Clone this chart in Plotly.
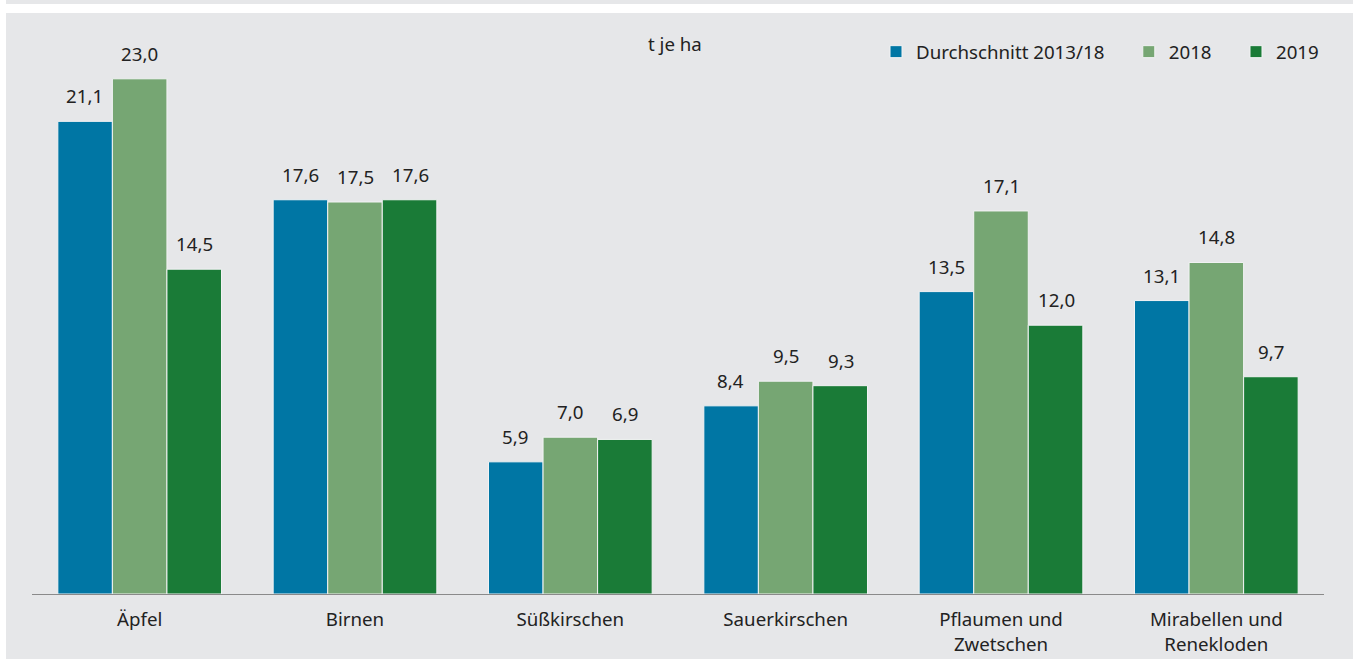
import plotly.graph_objects as go

categories = ["Äpfel", "Birnen", "Süßkirschen", "Sauerkirschen", "Pflaumen und<br>Zwetschen", "Mirabellen und<br>Renekloden"]
series_names = ["Durchschnitt 2013/18", "2018", "2019"]
avg_2013_18 = [21.1, 17.6, 5.9, 8.4, 13.5, 13.1]
y2018 = [23.0, 17.5, 7.0, 9.5, 17.1, 14.8]
y2019 = [14.5, 17.6, 6.9, 9.3, 12.0, 9.7]
colors = ["#0076a4", "#76a673", "#1a7b37"]

W, H = 1353, 659
ML, MR, MT, MB = 32, 29, 34, 65
pw = W - ML - MR
ph = H - MT - MB
FS = 18.7
FONT = "Noto Sans"
TXT = "#222222"
PAD = "\u00a0" * 4  # spacing between legend entries

fig = go.Figure()
all_series = [avg_2013_18, y2018, y2019]
for i, (name, vals, col) in enumerate(zip(series_names, all_series, colors)):
    fig.add_trace(go.Bar(
        x=categories, y=vals, name=name + (PAD if i < 2 else ""),
        marker=dict(color=col, line=dict(color="#f2f3f4", width=1)),
        hovertemplate="%{x}: %{y}<extra>" + name + "</extra>",
    ))

def fmt(v):
    return f"{v:.1f}".replace(".", ",")

offsets = [-55, 0, 55]
for vals, off in zip(all_series, offsets):
    for c, v in zip(categories, vals):
        fig.add_annotation(x=c, y=v, text=fmt(v), showarrow=False, xshift=off,
                           yanchor="bottom", yshift=11,
                           font=dict(size=FS, color=TXT, family=FONT))

def px_x(p):
    return (p - ML) / pw
def px_y(p):
    return (H - MB - p) / ph

fig.add_annotation(xref="paper", yref="paper", x=px_x(675), y=px_y(43),
                   text="t je ha", showarrow=False, xanchor="center", yanchor="middle",
                   font=dict(size=FS, color=TXT, family=FONT))

# white left edge column and white strip near the top
fig.add_shape(type="rect", xref="paper", yref="paper", x0=px_x(0), x1=px_x(6), y0=px_y(H), y1=px_y(0),
              fillcolor="white", line=dict(width=0), layer="below")
fig.add_shape(type="rect", xref="paper", yref="paper", x0=px_x(0), x1=px_x(W), y0=px_y(13), y1=px_y(4),
              fillcolor="white", line=dict(width=0), layer="below")

fig.update_layout(
    width=W, height=H,
    margin=dict(l=ML, r=MR, t=MT, b=MB),
    paper_bgcolor="#e6e7e9", plot_bgcolor="#e6e7e9",
    barmode="group", bargap=0.24, bargroupgap=0.0,
    font=dict(family=FONT, size=FS, color=TXT),
    legend=dict(orientation="h", x=1, xanchor="right", y=px_y(52), yanchor="middle",
                bgcolor="rgba(0,0,0,0)", font=dict(size=FS, color=TXT), itemwidth=30,
                traceorder="normal"),
    xaxis=dict(showline=True, linecolor="#8a8a8a", linewidth=1, ticks="", showgrid=False,
               tickfont=dict(size=FS, color=TXT), ticklabelstandoff=9, automargin=False),
    yaxis=dict(range=[0, 25], visible=False, showgrid=False, automargin=False),
)

fig.write_html("out.html", config={"displayModeBar": False},
               post_script="document.body.style.margin='0';document.body.style.overflow='hidden';")
